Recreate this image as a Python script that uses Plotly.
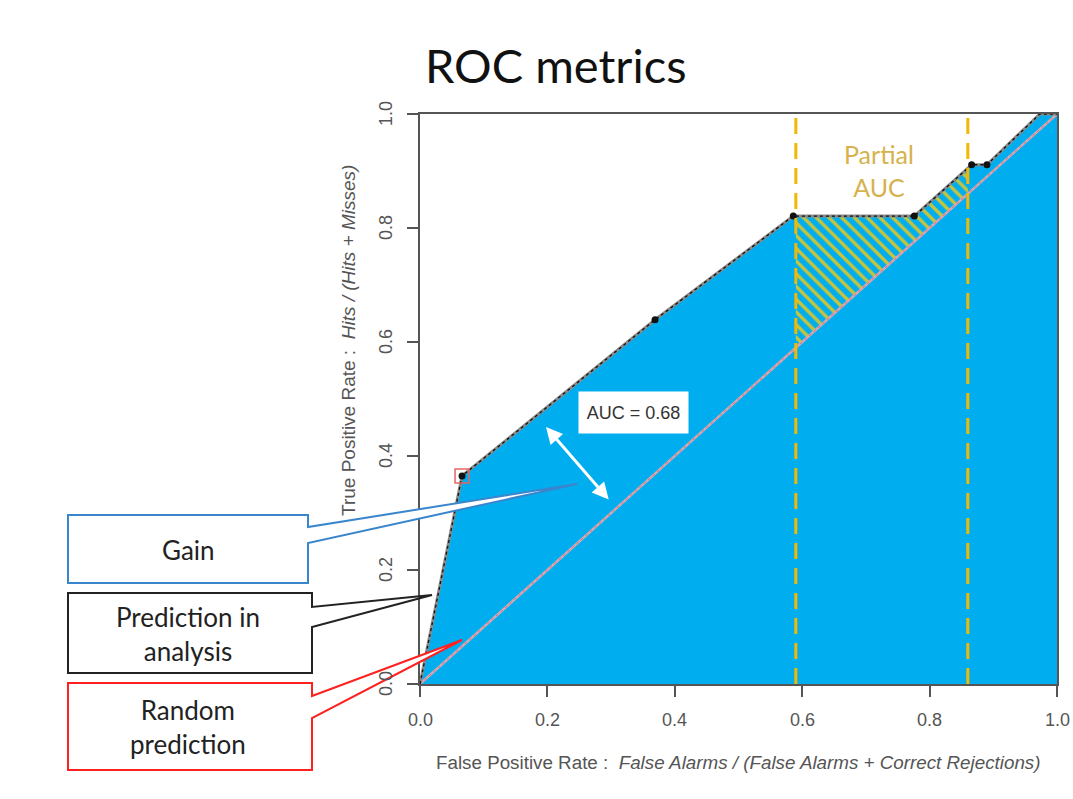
import numpy as np
import plotly.graph_objects as go

# ---- data ----
fpr = [0.0, 0.066, 0.369, 0.586, 0.776, 0.866, 0.890, 0.973, 1.0]
tpr = [0.0, 0.365, 0.639, 0.821, 0.821, 0.911, 0.911, 1.0, 1.0]
dot_fpr = [0.066, 0.369, 0.586, 0.776, 0.866, 0.890]
dot_tpr = [0.365, 0.639, 0.821, 0.821, 0.911, 0.911]
chance = [0.0, 1.0]
partial_bounds = [0.59, 0.86]
auc_value = 0.68
tick_vals = [0.0, 0.2, 0.4, 0.6, 0.8, 1.0]
tick_text = ["0.0", "0.2", "0.4", "0.6", "0.8", "1.0"]

# the page body margin is removed (post_script below), so the figure fills the window
OFF = 0
W, H = 1073, 795
L, R, T, B = 420, 1057, 114, 684          # plot area in window pixels
PW, PH = R - L, B - T


def px(x):
    return (x - L) / PW


def py(y):
    return (B - y) / PH


BLUE = "#00AEEF"
GOLD = "#F5B800"

fig = go.Figure()

# area under ROC curve
fig.add_trace(go.Scatter(x=fpr, y=tpr, mode="lines", fill="tozeroy",
                         fillcolor=BLUE, line=dict(width=0), hoverinfo="skip"))

# partial AUC hatched region
lo, hi = partial_bounds
xs_in = [lo] + [v for v in fpr if lo < v < hi] + [hi]
ys_in = list(np.interp(xs_in, fpr, tpr))
px_poly = xs_in + [hi, lo, lo]
py_poly = ys_in + [hi, lo, ys_in[0]]
fig.add_trace(go.Scatter(x=px_poly, y=py_poly, mode="lines", fill="toself",
                         line=dict(width=0), hoverinfo="skip",
                         fillcolor=BLUE,
                         fillpattern=dict(shape="\\", fgcolor="#c4c43e", bgcolor=BLUE,
                                          size=9, solidity=0.38, fillmode="replace")))

# chance diagonal
fig.add_trace(go.Scatter(x=chance, y=chance, mode="lines",
                         line=dict(color="#d4a9b4", width=2.5), hoverinfo="skip"))
fig.add_trace(go.Scatter(x=chance, y=chance, mode="lines",
                         line=dict(color="#e06a70", width=1, dash="dot"), hoverinfo="skip"))

# ROC curve
fig.add_trace(go.Scatter(x=fpr, y=tpr, mode="lines",
                         line=dict(color="#8a8a8a", width=3), hoverinfo="skip"))
fig.add_trace(go.Scatter(x=fpr, y=tpr, mode="lines",
                         line=dict(color="#111111", width=1.3, dash="dot"), hoverinfo="skip"))
fig.add_trace(go.Scatter(x=dot_fpr, y=dot_tpr, mode="markers",
                         marker=dict(color="#111111", size=7), hoverinfo="skip"))
fig.add_trace(go.Scatter(x=dot_fpr[:1], y=dot_tpr[:1], mode="markers",
                         marker=dict(symbol="square-open", color="#e86464", size=14,
                                     line=dict(width=1.5, color="#e86464")),
                         hoverinfo="skip"))

shapes = []
for xv in partial_bounds:
    shapes.append(dict(type="line", xref="x", yref="paper", x0=xv, x1=xv, y0=0, y1=0.995,
                       line=dict(color=GOLD, width=3, dash="16px,9px")))


def callout(pts, color):
    d = "M " + " L ".join(f"{px(a):.5f},{py(b):.5f}" for a, b in pts) + " Z"
    return dict(type="path", xref="paper", yref="paper", path=d,
                fillcolor="white", line=dict(color=color, width=2), layer="above")


shapes.append(callout([(68, 515), (308, 515), (308, 527), (577, 484), (308, 543),
                       (308, 583), (68, 583)], "#3a86cc"))
shapes.append(callout([(68, 593), (312, 593), (312, 607), (432, 595), (312, 627),
                       (312, 673), (68, 673)], "#222222"))
shapes.append(callout([(68, 683), (312, 683), (312, 696), (462, 640), (312, 718),
                       (312, 770), (68, 770)], "#ff2020"))

CAL = "Lato, 'Open Sans', sans-serif"
ARIAL = "'Liberation Sans', Arial, sans-serif"
TICKFONT = dict(family=ARIAL, size=18, color="#555555")


def label(text, x, y, **kw):
    d = dict(text=text, xref="paper", yref="paper", x=px(x), y=py(y),
             xanchor="center", yanchor="middle", showarrow=False)
    d.update(kw)
    return d


annotations = [
    label("ROC metrics", 556, 65, font=dict(family=CAL, size=47, color="#111111")),
    label("Partial<br>AUC", 879, 170, font=dict(family=CAL, size=25, color="#d6b24c")),
    label(f"AUC = {auc_value:.2f}", 633, 412, bgcolor="white", width=109, height=41,
          borderpad=0, font=dict(family=ARIAL, size=18, color="#333333")),
    dict(text="", xref="paper", yref="paper", x=px(546), y=py(427),
         ax=64, ay=74, showarrow=True, arrowside="end+start", arrowhead=2,
         arrowsize=1.1, arrowwidth=3, arrowcolor="white"),
    label("Gain", 188, 550, font=dict(family=CAL, size=26, color="#222222")),
    label("Prediction in<br>analysis", 188, 634, font=dict(family=CAL, size=26, color="#222222")),
    label("Random<br>prediction", 188, 727, font=dict(family=CAL, size=26, color="#222222")),
    label("False Positive Rate :  <i>False Alarms / (False Alarms + Correct Rejections)</i>",
          738, 762, font=dict(family=ARIAL, size=18.8, color="#555555")),
    label("True Positive Rate :  <i>Hits / (Hits + Misses)</i>", 348, 341, textangle=-90,
          font=dict(family=ARIAL, size=19, color="#555555")),
]

# tick labels placed as text next to the axis ticks
for v, t in zip(tick_vals, tick_text):
    annotations.append(dict(text=t, xref="x", yref="paper", x=v, y=py(720),
                            xanchor="center", yanchor="middle", showarrow=False,
                            font=TICKFONT))
    annotations.append(dict(text=t, xref="paper", yref="y", x=px(386), y=v,
                            xanchor="center", yanchor="middle", showarrow=False,
                            textangle=-90, font=TICKFONT))

axis_common = dict(range=[0, 1], showgrid=False, zeroline=False, showline=True,
                   linecolor="#555555", linewidth=1.5, mirror=True, automargin=False,
                   ticks="outside", ticklen=11, tickwidth=1.5, tickcolor="#555555",
                   tickvals=tick_vals, showticklabels=False, fixedrange=True)

fig.update_layout(
    width=W, height=H, autosize=False,
    margin=dict(l=L - OFF, r=(W + OFF) - R, t=T - OFF, b=(H + OFF) - B, pad=0),
    paper_bgcolor="white", plot_bgcolor="white",
    showlegend=False,
    xaxis=axis_common,
    yaxis=axis_common,
    shapes=shapes,
    annotations=annotations,
)

fig.write_html("out.html", config={"displayModeBar": False},
               post_script="document.body.style.margin='0';document.body.style.overflow='hidden';")
